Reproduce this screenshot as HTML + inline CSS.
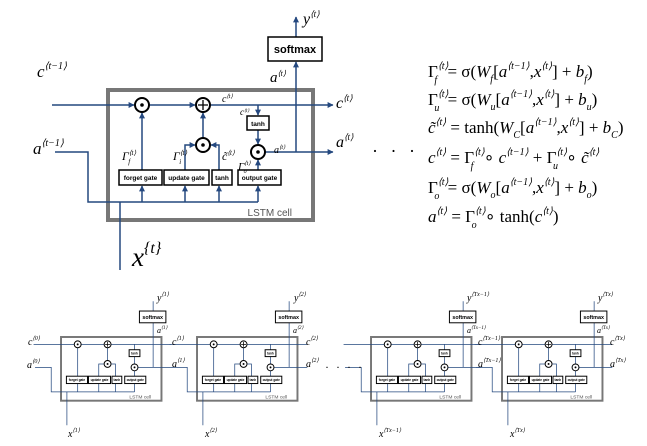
<!DOCTYPE html>
<html><head><meta charset="utf-8"><style>
html,body{margin:0;padding:0;background:#fff;}
svg{display:block;}
.m{font-family:"Liberation Serif",serif;font-style:italic;}
.r{font-family:"Liberation Serif",serif;}
.g{font-family:"Liberation Sans",sans-serif;font-weight:bold;}
</style></head><body>
<svg width="647" height="446" viewBox="0 0 647 446" xmlns="http://www.w3.org/2000/svg">
<defs>
<marker id="ah" viewBox="0 0 10 10" refX="9" refY="5" markerWidth="4" markerHeight="4" orient="auto"><path d="M0,0L10,5L0,10z" fill="#24487f"/></marker>
</defs>

<g id="cellA" fill="none" stroke="#24487f" stroke-width="1.5">
<rect x="108" y="90" width="205" height="130" stroke="#777" stroke-width="4"/>
<line x1="52" y1="105" x2="134" y2="105" marker-end="url(#ah)"/>
<line x1="149" y1="105" x2="195" y2="105" marker-end="url(#ah)"/>
<line x1="210" y1="105" x2="333" y2="105" marker-end="url(#ah)"/>
<line x1="258" y1="105" x2="258" y2="115" marker-end="url(#ah)"/>
<line x1="258" y1="130" x2="258" y2="144" marker-end="url(#ah)"/>
<line x1="265" y1="152" x2="333" y2="152" marker-end="url(#ah)"/>
<line x1="296" y1="152" x2="296" y2="62" marker-end="url(#ah)"/>
<line x1="296" y1="37" x2="296" y2="17" marker-end="url(#ah)"/>
<line x1="142" y1="170" x2="142" y2="113" marker-end="url(#ah)"/>
<line x1="203" y1="138" x2="203" y2="113" marker-end="url(#ah)"/>
<polyline points="185,170 185,145 195,145" marker-end="url(#ah)"/>
<polyline points="219,170 219,145 211,145" marker-end="url(#ah)"/>
<line x1="258" y1="170" x2="258" y2="160" marker-end="url(#ah)"/>
<polyline points="55,152 88,152 88,202 258,202"/>
<line x1="142" y1="202" x2="142" y2="186" marker-end="url(#ah)"/>
<line x1="185" y1="202" x2="185" y2="186" marker-end="url(#ah)"/>
<line x1="219" y1="202" x2="219" y2="186" marker-end="url(#ah)"/>
<line x1="258" y1="202" x2="258" y2="186" marker-end="url(#ah)"/>
<line x1="120" y1="202" x2="120" y2="270"/>
<g stroke="#000" stroke-width="2" fill="#fff">
<circle cx="142" cy="105" r="7"/><circle cx="203" cy="105" r="7"/><circle cx="203" cy="145" r="7"/><circle cx="258" cy="152" r="7"/>
</g>
<g fill="#000" stroke="none"><circle cx="142" cy="105" r="1.8"/><circle cx="203" cy="145" r="1.8"/><circle cx="258" cy="152" r="1.8"/></g>
<path d="M198,105H208M203,100V110" stroke="#000" stroke-width="1.3"/>
<g stroke="#000" stroke-width="1.5" fill="#fff">
<rect x="247" y="116" width="22" height="14"/><rect x="268" y="37" width="54" height="24"/>
<rect x="119" y="170" width="43" height="15"/><rect x="164" y="170" width="45" height="15"/>
<rect x="212" y="170" width="20" height="15"/><rect x="238" y="170" width="43" height="15"/>
</g>
<g stroke="none" fill="#000" class="g" font-size="6.5" text-anchor="middle">
<text x="258" y="126">tanh</text><text x="295" y="53" font-size="11">softmax</text>
<text x="140.5" y="180">forget gate</text><text x="186.5" y="180">update gate</text>
<text x="222" y="180">tanh</text><text x="259.5" y="180">output gate</text>
</g>
<text x="292" y="216" stroke="none" fill="#555" font-family="Liberation Sans,sans-serif" font-size="10" text-anchor="end">LSTM cell</text>
</g>

<g class="m" fill="#000">
<text x="37" y="77" font-size="17">c<tspan font-size="10" dy="-8">⟨t−1⟩</tspan></text>
<text x="33" y="154" font-size="17">a<tspan font-size="10" dy="-8">⟨t−1⟩</tspan></text>
<text x="336" y="108" font-size="16">c<tspan font-size="9" dy="-7">⟨t⟩</tspan></text>
<text x="336" y="147" font-size="16">a<tspan font-size="9" dy="-7">⟨t⟩</tspan></text>
<text x="270" y="82" font-size="15">a<tspan font-size="8" dy="-6">⟨t⟩</tspan></text>
<text x="303" y="24" font-size="16">y<tspan font-size="9" dy="-7">⟨t⟩</tspan></text>
<text x="222" y="102" font-size="10">c<tspan font-size="6" dy="-4">⟨t⟩</tspan></text>
<text x="240" y="115" font-size="9">c<tspan font-size="5" dy="-3">⟨t⟩</tspan></text>
<text x="274" y="153" font-size="10">a<tspan font-size="6" dy="-4">⟨t⟩</tspan></text>
<text x="122" y="160" class="r" font-size="12">Γ<tspan font-size="7" dy="-5">⟨t⟩</tspan><tspan class="m" font-size="7" dx="-8" dy="9">f</tspan></text>
<text x="173" y="160" class="r" font-size="12">Γ<tspan font-size="7" dy="-5">⟨t⟩</tspan><tspan class="m" font-size="7" dx="-8" dy="9">i</tspan></text>
<text x="222" y="160" font-size="12">c̃<tspan font-size="7" dy="-5">⟨t⟩</tspan></text>
<text x="238" y="170" class="r" font-size="11">Γ<tspan font-size="6" dy="-5">⟨t⟩</tspan><tspan class="m" font-size="6" dx="-7" dy="8">o</tspan></text>
<text x="132" y="266" font-size="27">x<tspan font-size="16" dy="-13">{t}</tspan></text>
</g>

<text x="372" y="157" class="r" font-size="18" letter-spacing="4">· · ·</text>

<g class="r" font-size="17" fill="#000">
<text x="428" y="77">Γ<tspan class="m" font-size="10" dy="-8">⟨t⟩</tspan><tspan class="m" font-size="10" dx="-14" dy="14">f</tspan><tspan dy="-6" dx="6"> = σ(</tspan><tspan class="m">W</tspan><tspan class="m" font-size="10" dy="5">f</tspan><tspan dy="-5">[</tspan><tspan class="m">a</tspan><tspan class="m" font-size="10" dy="-8">⟨t−1⟩</tspan><tspan dy="8">,</tspan><tspan class="m">x</tspan><tspan class="m" font-size="10" dy="-8">⟨t⟩</tspan><tspan dy="8">] + </tspan><tspan class="m">b</tspan><tspan class="m" font-size="10" dy="5">f</tspan><tspan dy="-5">)</tspan></text>
<text x="428" y="105">Γ<tspan class="m" font-size="10" dy="-8">⟨t⟩</tspan><tspan class="m" font-size="10" dx="-14" dy="14">u</tspan><tspan dy="-6" dx="4"> = σ(</tspan><tspan class="m">W</tspan><tspan class="m" font-size="10" dy="5">u</tspan><tspan dy="-5">[</tspan><tspan class="m">a</tspan><tspan class="m" font-size="10" dy="-8">⟨t−1⟩</tspan><tspan dy="8">,</tspan><tspan class="m">x</tspan><tspan class="m" font-size="10" dy="-8">⟨t⟩</tspan><tspan dy="8">] + </tspan><tspan class="m">b</tspan><tspan class="m" font-size="10" dy="5">u</tspan><tspan dy="-5">)</tspan></text>
<text x="428" y="133"><tspan class="m">c̃</tspan><tspan class="m" font-size="10" dy="-8">⟨t⟩</tspan><tspan dy="8"> = tanh(</tspan><tspan class="m">W</tspan><tspan class="m" font-size="10" dy="5">C</tspan><tspan dy="-5">[</tspan><tspan class="m">a</tspan><tspan class="m" font-size="10" dy="-8">⟨t−1⟩</tspan><tspan dy="8">,</tspan><tspan class="m">x</tspan><tspan class="m" font-size="10" dy="-8">⟨t⟩</tspan><tspan dy="8">] + </tspan><tspan class="m">b</tspan><tspan class="m" font-size="10" dy="5">C</tspan><tspan dy="-5">)</tspan></text>
<text x="428" y="163"><tspan class="m">c</tspan><tspan class="m" font-size="10" dy="-8">⟨t⟩</tspan><tspan dy="8"> = Γ</tspan><tspan class="m" font-size="10" dy="-8">⟨t⟩</tspan><tspan class="m" font-size="10" dx="-14" dy="14">f</tspan><tspan dy="-6" dx="6"> ∘ </tspan><tspan class="m">c</tspan><tspan class="m" font-size="10" dy="-8">⟨t−1⟩</tspan><tspan dy="8"> + Γ</tspan><tspan class="m" font-size="10" dy="-8">⟨t⟩</tspan><tspan class="m" font-size="10" dx="-14" dy="14">u</tspan><tspan dy="-6" dx="4"> ∘ </tspan><tspan class="m">c̃</tspan><tspan class="m" font-size="10" dy="-8">⟨t⟩</tspan></text>
<text x="428" y="193">Γ<tspan class="m" font-size="10" dy="-8">⟨t⟩</tspan><tspan class="m" font-size="10" dx="-14" dy="14">o</tspan><tspan dy="-6" dx="4"> = σ(</tspan><tspan class="m">W</tspan><tspan class="m" font-size="10" dy="5">o</tspan><tspan dy="-5">[</tspan><tspan class="m">a</tspan><tspan class="m" font-size="10" dy="-8">⟨t−1⟩</tspan><tspan dy="8">,</tspan><tspan class="m">x</tspan><tspan class="m" font-size="10" dy="-8">⟨t⟩</tspan><tspan dy="8">] + </tspan><tspan class="m">b</tspan><tspan class="m" font-size="10" dy="5">o</tspan><tspan dy="-5">)</tspan></text>
<text x="428" y="222"><tspan class="m">a</tspan><tspan class="m" font-size="10" dy="-8">⟨t⟩</tspan><tspan dy="8"> = Γ</tspan><tspan class="m" font-size="10" dy="-8">⟨t⟩</tspan><tspan class="m" font-size="10" dx="-14" dy="14">o</tspan><tspan dy="-6" dx="4"> ∘ tanh(</tspan><tspan class="m">c</tspan><tspan class="m" font-size="10" dy="-8">⟨t⟩</tspan><tspan dy="8">)</tspan></text>
</g>

<g id="smallcells" fill="none" stroke="#24487f" stroke-width="1.5">
<g transform="translate(8.1,292.9) scale(0.49)">
<rect x="108" y="90" width="205" height="130" stroke="#777" stroke-width="4"/>
<path d="M52,105H333M258,105V116M258,130V145M265,152H333M296,152V61M296,37V17M142,170V112M203,138V112M185,170V145H196M219,170V145H210M258,170V159M55,152H88V202H258M142,202V185M185,202V185M219,202V185M258,202V185M120,202V270"/>
<g stroke="#000" stroke-width="2" fill="#fff"><circle cx="142" cy="105" r="7"/><circle cx="203" cy="105" r="7"/><circle cx="203" cy="145" r="7"/><circle cx="258" cy="152" r="7"/>
<rect x="247" y="116" width="22" height="14"/><rect x="268" y="37" width="54" height="24"/><rect x="119" y="170" width="43" height="15"/><rect x="164" y="170" width="45" height="15"/><rect x="212" y="170" width="20" height="15"/><rect x="238" y="170" width="43" height="15"/></g>
<g fill="#000" stroke="none"><circle cx="142" cy="105" r="2"/><circle cx="203" cy="145" r="2"/><circle cx="258" cy="152" r="2"/></g>
<path d="M198,105H208M203,100V110" stroke="#000" stroke-width="1.5"/>
<g stroke="none" fill="#000" class="g" font-size="6.5" text-anchor="middle"><text x="258" y="126">tanh</text><text x="295" y="53" font-size="11">softmax</text><text x="140.5" y="180">forget gate</text><text x="186.5" y="180">update gate</text><text x="222" y="180">tanh</text><text x="259.5" y="180">output gate</text></g>
<text x="292" y="216" stroke="none" fill="#555" font-family="Liberation Sans,sans-serif" font-size="10" text-anchor="end">LSTM cell</text>
</g>
<g transform="translate(144.1,292.9) scale(0.49)">
<rect x="108" y="90" width="205" height="130" stroke="#777" stroke-width="4"/>
<path d="M52,105H333M258,105V116M258,130V145M265,152H333M296,152V61M296,37V17M142,170V112M203,138V112M185,170V145H196M219,170V145H210M258,170V159M55,152H88V202H258M142,202V185M185,202V185M219,202V185M258,202V185M120,202V270"/>
<g stroke="#000" stroke-width="2" fill="#fff"><circle cx="142" cy="105" r="7"/><circle cx="203" cy="105" r="7"/><circle cx="203" cy="145" r="7"/><circle cx="258" cy="152" r="7"/>
<rect x="247" y="116" width="22" height="14"/><rect x="268" y="37" width="54" height="24"/><rect x="119" y="170" width="43" height="15"/><rect x="164" y="170" width="45" height="15"/><rect x="212" y="170" width="20" height="15"/><rect x="238" y="170" width="43" height="15"/></g>
<g fill="#000" stroke="none"><circle cx="142" cy="105" r="2"/><circle cx="203" cy="145" r="2"/><circle cx="258" cy="152" r="2"/></g>
<path d="M198,105H208M203,100V110" stroke="#000" stroke-width="1.5"/>
<g stroke="none" fill="#000" class="g" font-size="6.5" text-anchor="middle"><text x="258" y="126">tanh</text><text x="295" y="53" font-size="11">softmax</text><text x="140.5" y="180">forget gate</text><text x="186.5" y="180">update gate</text><text x="222" y="180">tanh</text><text x="259.5" y="180">output gate</text></g>
<text x="292" y="216" stroke="none" fill="#555" font-family="Liberation Sans,sans-serif" font-size="10" text-anchor="end">LSTM cell</text>
</g>
<g transform="translate(318.1,292.9) scale(0.49)">
<rect x="108" y="90" width="205" height="130" stroke="#777" stroke-width="4"/>
<path d="M52,105H333M258,105V116M258,130V145M265,152H333M296,152V61M296,37V17M142,170V112M203,138V112M185,170V145H196M219,170V145H210M258,170V159M55,152H88V202H258M142,202V185M185,202V185M219,202V185M258,202V185M120,202V270"/>
<g stroke="#000" stroke-width="2" fill="#fff"><circle cx="142" cy="105" r="7"/><circle cx="203" cy="105" r="7"/><circle cx="203" cy="145" r="7"/><circle cx="258" cy="152" r="7"/>
<rect x="247" y="116" width="22" height="14"/><rect x="268" y="37" width="54" height="24"/><rect x="119" y="170" width="43" height="15"/><rect x="164" y="170" width="45" height="15"/><rect x="212" y="170" width="20" height="15"/><rect x="238" y="170" width="43" height="15"/></g>
<g fill="#000" stroke="none"><circle cx="142" cy="105" r="2"/><circle cx="203" cy="145" r="2"/><circle cx="258" cy="152" r="2"/></g>
<path d="M198,105H208M203,100V110" stroke="#000" stroke-width="1.5"/>
<g stroke="none" fill="#000" class="g" font-size="6.5" text-anchor="middle"><text x="258" y="126">tanh</text><text x="295" y="53" font-size="11">softmax</text><text x="140.5" y="180">forget gate</text><text x="186.5" y="180">update gate</text><text x="222" y="180">tanh</text><text x="259.5" y="180">output gate</text></g>
<text x="292" y="216" stroke="none" fill="#555" font-family="Liberation Sans,sans-serif" font-size="10" text-anchor="end">LSTM cell</text>
</g>
<g transform="translate(449.1,292.9) scale(0.49)">
<rect x="108" y="90" width="205" height="130" stroke="#777" stroke-width="4"/>
<path d="M52,105H333M258,105V116M258,130V145M265,152H333M296,152V61M296,37V17M142,170V112M203,138V112M185,170V145H196M219,170V145H210M258,170V159M55,152H88V202H258M142,202V185M185,202V185M219,202V185M258,202V185M120,202V270"/>
<g stroke="#000" stroke-width="2" fill="#fff"><circle cx="142" cy="105" r="7"/><circle cx="203" cy="105" r="7"/><circle cx="203" cy="145" r="7"/><circle cx="258" cy="152" r="7"/>
<rect x="247" y="116" width="22" height="14"/><rect x="268" y="37" width="54" height="24"/><rect x="119" y="170" width="43" height="15"/><rect x="164" y="170" width="45" height="15"/><rect x="212" y="170" width="20" height="15"/><rect x="238" y="170" width="43" height="15"/></g>
<g fill="#000" stroke="none"><circle cx="142" cy="105" r="2"/><circle cx="203" cy="145" r="2"/><circle cx="258" cy="152" r="2"/></g>
<path d="M198,105H208M203,100V110" stroke="#000" stroke-width="1.5"/>
<g stroke="none" fill="#000" class="g" font-size="6.5" text-anchor="middle"><text x="258" y="126">tanh</text><text x="295" y="53" font-size="11">softmax</text><text x="140.5" y="180">forget gate</text><text x="186.5" y="180">update gate</text><text x="222" y="180">tanh</text><text x="259.5" y="180">output gate</text></g>
<text x="292" y="216" stroke="none" fill="#555" font-family="Liberation Sans,sans-serif" font-size="10" text-anchor="end">LSTM cell</text>
</g>
</g>

<g class="m" fill="#000" font-size="10">
<text x="28" y="345">c<tspan font-size="6" dy="-5">⟨0⟩</tspan></text>
<text x="27" y="368">a<tspan font-size="6" dy="-5">⟨0⟩</tspan></text>
<text x="157" y="301">y<tspan font-size="6" dy="-5">⟨1⟩</tspan></text>
<text x="157" y="333" font-size="8">a<tspan font-size="5" dy="-4">⟨1⟩</tspan></text>
<text x="172" y="345">c<tspan font-size="6" dy="-5">⟨1⟩</tspan></text>
<text x="172" y="367">a<tspan font-size="6" dy="-5">⟨1⟩</tspan></text>
<text x="68" y="437">x<tspan font-size="6" dy="-5">⟨1⟩</tspan></text>
<text x="294" y="301">y<tspan font-size="6" dy="-5">⟨2⟩</tspan></text>
<text x="293" y="333" font-size="8">a<tspan font-size="5" dy="-4">⟨2⟩</tspan></text>
<text x="306" y="345">c<tspan font-size="6" dy="-5">⟨2⟩</tspan></text>
<text x="306" y="367">a<tspan font-size="6" dy="-5">⟨2⟩</tspan></text>
<text x="205" y="437">x<tspan font-size="6" dy="-5">⟨2⟩</tspan></text>
<text x="467" y="301">y<tspan font-size="6" dy="-5">⟨Tx−1⟩</tspan></text>
<text x="467" y="333" font-size="8">a<tspan font-size="5" dy="-4">⟨Tx−1⟩</tspan></text>
<text x="478" y="345">c<tspan font-size="6" dy="-5">⟨Tx−1⟩</tspan></text>
<text x="478" y="367">a<tspan font-size="6" dy="-5">⟨Tx−1⟩</tspan></text>
<text x="379" y="437">x<tspan font-size="6" dy="-5">⟨Tx−1⟩</tspan></text>
<text x="598" y="301">y<tspan font-size="6" dy="-5">⟨Tx⟩</tspan></text>
<text x="597" y="333" font-size="8">a<tspan font-size="5" dy="-4">⟨Tx⟩</tspan></text>
<text x="610" y="345">c<tspan font-size="6" dy="-5">⟨Tx⟩</tspan></text>
<text x="610" y="367">a<tspan font-size="6" dy="-5">⟨Tx⟩</tspan></text>
<text x="510" y="437">x<tspan font-size="6" dy="-5">⟨Tx⟩</tspan></text>
</g>
<text x="325" y="371" class="r" font-size="12" letter-spacing="2">· · · ·</text>
</svg>
</body></html>
